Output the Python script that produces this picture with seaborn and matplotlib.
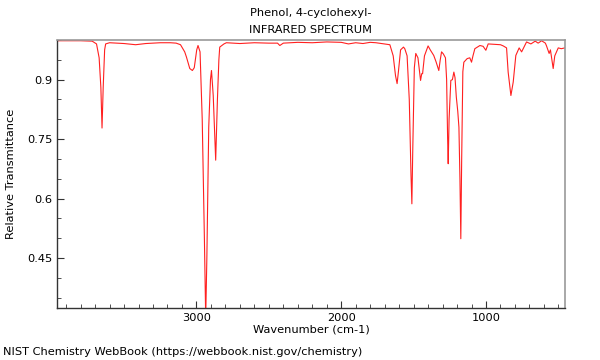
import matplotlib
matplotlib.use('Agg')
import numpy as np
import pandas as pd
import seaborn as sns
import matplotlib.pyplot as plt
from matplotlib.ticker import MultipleLocator, StrMethodFormatter

# spectrum (wavenumber in cm-1, relative transmittance)
wavenumber = [3963, 3800, 3720, 3690, 3672, 3660, 3652, 3644, 3634, 3627,
              3600, 3500, 3420, 3350, 3250, 3180, 3140, 3110, 3081, 3069,
              3046, 3028, 3015, 2998, 2989, 2975, 2960, 2945, 2936,
              2928, 2915, 2903, 2896, 2884, 2867, 2855, 2845, 2839, 2810,
              2793, 2700, 2600, 2500, 2440, 2424, 2400, 2300, 2200, 2100,
              2000, 1950, 1900, 1850, 1800, 1760, 1700, 1664, 1641, 1625,
              1614, 1605, 1590, 1570, 1561, 1545, 1530, 1518, 1512, 1506,
              1495, 1485, 1470, 1452, 1444, 1438, 1425, 1400, 1385, 1361,
              1345, 1326, 1316, 1307, 1295, 1280, 1272, 1265, 1261, 1255, 1243,
              1232, 1222, 1214, 1205, 1195, 1187, 1180, 1174, 1168, 1160,
              1153, 1130, 1112, 1100, 1090, 1077, 1042, 1020, 1001, 985,
              900, 881, 858, 847, 828, 812, 794, 771, 754, 720,
              690, 660, 640, 616, 590, 582, 564, 555, 536, 525,
              501, 480, 455]
transmittance = [0.998, 0.998, 0.997, 0.990, 0.955, 0.880, 0.778, 0.880, 0.975, 0.990,
                 0.993, 0.991, 0.988, 0.991, 0.993, 0.993, 0.992, 0.988, 0.970, 0.957,
                 0.928, 0.923, 0.930, 0.975, 0.986, 0.970, 0.800, 0.500, 0.300,
                 0.450, 0.780, 0.900, 0.923, 0.860, 0.697, 0.850, 0.950, 0.982, 0.990,
                 0.993, 0.991, 0.993, 0.992, 0.992, 0.986, 0.992, 0.994, 0.993, 0.995,
                 0.994, 0.990, 0.993, 0.991, 0.994, 0.993, 0.990, 0.988, 0.960, 0.910,
                 0.890, 0.920, 0.975, 0.982, 0.978, 0.960, 0.850, 0.660, 0.587, 0.720,
                 0.930, 0.966, 0.955, 0.898, 0.915, 0.915, 0.960, 0.985, 0.975, 0.961,
                 0.945, 0.923, 0.950, 0.970, 0.965, 0.955, 0.900, 0.750, 0.688, 0.800, 0.898,
                 0.900, 0.919, 0.905, 0.856, 0.820, 0.780, 0.650, 0.499, 0.700, 0.920,
                 0.944, 0.953, 0.955, 0.944, 0.960, 0.978, 0.986, 0.984, 0.974, 0.990,
                 0.988, 0.985, 0.980, 0.919, 0.860, 0.894, 0.961, 0.980, 0.970, 0.995,
                 0.990, 0.997, 0.992, 0.998, 0.992, 0.985, 0.966, 0.975, 0.928, 0.960,
                 0.980, 0.978, 0.980]

df = pd.DataFrame({'wavenumber': wavenumber, 'transmittance': transmittance})

sns.set_style('ticks')
plt.rcParams['font.family'] = ['DejaVu Sans']
plt.rcParams['text.color'] = 'black'
plt.rcParams['axes.labelcolor'] = 'black'
plt.rcParams['xtick.labelcolor'] = 'black'
plt.rcParams['ytick.labelcolor'] = 'black'
fs = 8.2

fig = plt.figure(figsize=(6, 3.6), dpi=100)
ax = fig.add_axes([0.095, 0.144, 0.847, 0.745])
sns.lineplot(data=df, x='wavenumber', y='transmittance', ax=ax,
             color='#ff2020', lw=0.8, sort=False, estimator=None)

ax.set_xlim(3963, 453)
ax.set_ylim(0.324, 1.0)
ax.xaxis.set_major_locator(MultipleLocator(1000))
ax.xaxis.set_minor_locator(MultipleLocator(100))
ax.yaxis.set_major_locator(MultipleLocator(0.15))
ax.yaxis.set_minor_locator(MultipleLocator(0.05))
ax.yaxis.set_major_formatter(StrMethodFormatter('{x:g}'))
ax.tick_params(which='both', direction='in', labelsize=fs, color='#333333')
ax.tick_params(which='major', length=5)
ax.tick_params(which='minor', length=3)

for s in ['left', 'bottom']:
    ax.spines[s].set_color('#333333')
    ax.spines[s].set_linewidth(1.0)
for s in ['top', 'right']:
    ax.spines[s].set_color('#999999')
    ax.spines[s].set_linewidth(1.2)

ax.set_xlabel('Wavenumber (cm-1)', fontsize=fs, labelpad=1)
ax.set_ylabel('Relative Transmittance', fontsize=fs, labelpad=8)
fig.text(0.518, 0.964, 'Phenol, 4-cyclohexyl-', fontsize=fs, ha='center', va='center')
fig.text(0.518, 0.917, 'INFRARED SPECTRUM', fontsize=fs, ha='center', va='center')
fig.text(0.005, 0.022, 'NIST Chemistry WebBook (https://webbook.nist.gov/chemistry)',
         fontsize=fs, ha='left', va='center')

fig.savefig('out.png', dpi=100)
